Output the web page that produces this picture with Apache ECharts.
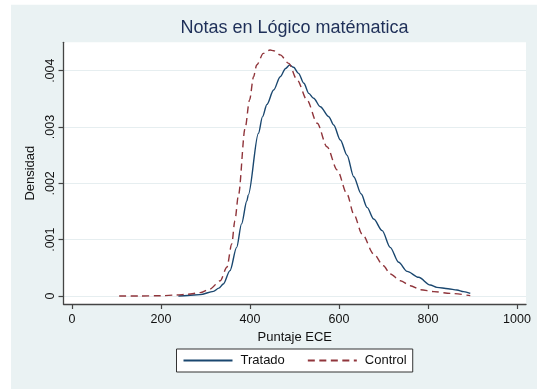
<!DOCTYPE html>
<html>
<head>
<meta charset="utf-8">
<script src="https://cdn.jsdelivr.net/npm/echarts@6/dist/echarts.min.js"></script>
<style>
html,body{margin:0;padding:0;background:#ffffff;}
#c{position:absolute;left:0;top:0;width:537px;height:389px;}
</style>
</head>
<body>
<div id="c"></div>
<script>
// Data
const titleText = 'Notas en Lógico matématica';
const seriesNames = ['Tratado', 'Control'];
const xTicks = [0, 200, 400, 600, 800, 1000];
const yTicks = [0, 0.001, 0.002, 0.003, 0.004];
const yTickLabels = ['0', '.001', '.002', '.003', '.004'];

const tratadoX = [239,260,288,318,330,340,355,370,381,393,396,419,428,438,453,468,480,489,498,509,521,532,543,558,577,588,603,618,633,650,663,678,697,715,734,753,779,805,820,845,865,880,895];
const tratadoY = [0,0.00001,0.000024,0.000083,0.00014,0.000213,0.00045,0.000864,0.00128,0.00169,0.00179,0.00289,0.00318,0.0034,0.003657,0.003893,0.00404,0.0041,0.00406,0.003953,0.003776,0.003598,0.00351,0.00336,0.003183,0.003036,0.00277,0.0025,0.002118,0.00181,0.001574,0.001367,0.00116,0.000864,0.000598,0.000438,0.000332,0.000195,0.000154,0.00013,0.000107,0.000077,0.000047];

const controlX = [106,150,200,235,260,288,310,333,348,359,366,374,389,399,408,415,430,445,453,468,487,506,528,551,573,596,618,633,652,678,700,715,738,760,783,813,850,895];
const controlY = [0,0,0.000005,0.000018,0.00003,0.00006,0.000124,0.00027,0.00051,0.000923,0.001337,0.00179,0.002977,0.00348,0.003893,0.0041,0.004308,0.004367,0.004355,0.00428,0.00413,0.003834,0.00348,0.003066,0.00265,0.002237,0.00181,0.001456,0.0011,0.000746,0.000538,0.00039,0.000272,0.000183,0.000112,0.000077,0.000047,0.000006];

const FONT = '"Liberation Sans", Arial, sans-serif';
const zip = (xs, ys) => xs.map((x, i) => [x, ys[i]]);

const chart = echarts.init(document.getElementById('c'), null, {renderer: 'canvas'});
chart.setOption({
  backgroundColor: '#ffffff',
  animation: false,
  graphic: [{
    type: 'rect', left: 11, top: 4.7, z: -10, silent: true,
    shape: {width: 526, height: 385},
    style: {fill: '#eaf2f3'}
  }, {
    type: 'rect', left: 63.5, top: 42.3, z: -9, silent: true,
    shape: {width: 462.5, height: 261.7},
    style: {fill: '#ffffff'}
  }],
  title: {
    text: titleText,
    left: 294.5, top: 19.5, textAlign: 'center', padding: 0,
    textStyle: {fontFamily: FONT, fontSize: 18, fontWeight: 'normal', color: '#1e2f58'}
  },
  legend: {
    data: seriesNames,
    left: 176.5, top: 349,
    padding: [5, 6, 5, 6],
    itemWidth: 49, itemHeight: 14, itemGap: 22,
    backgroundColor: '#ffffff',
    borderColor: '#333333', borderWidth: 1, borderRadius: 0,
    itemStyle: {opacity: 0},
    textStyle: {fontFamily: FONT, fontSize: 13, color: '#111111', padding: [0, 0, 0, 3]}
  },
  grid: {left: 63.5, right: 11, top: 42.3, bottom: 85, containLabel: false},
  xAxis: {
    type: 'value',
    min: -19.1, max: 1020.2,
    name: 'Puntaje ECE', nameLocation: 'middle', nameGap: 22,
    nameTextStyle: {fontFamily: FONT, fontSize: 13, color: '#111111'},
    axisLine: {show: true, onZero: false, lineStyle: {color: '#444444', width: 1.3}},
    axisTick: {show: true, length: 5, customValues: xTicks, lineStyle: {color: '#444444', width: 1.2}},
    axisLabel: {
      customValues: xTicks, margin: 9, fontFamily: FONT, fontSize: 12.5, color: '#111111',
      formatter: function (v) { return String(Math.round(v)); }
    },
    splitLine: {show: false}
  },
  yAxis: {
    type: 'value',
    min: -0.000142, max: 0.004504,
    name: 'Densidad', nameLocation: 'middle', nameGap: 21, nameRotate: 90,
    nameTextStyle: {fontFamily: FONT, fontSize: 13, color: '#111111'},
    axisLine: {show: true, onZero: false, lineStyle: {color: '#444444', width: 1.3}},
    axisTick: {show: true, length: 5, customValues: yTicks, lineStyle: {color: '#444444', width: 1.2}},
    axisLabel: {
      customValues: yTicks, rotate: 90, margin: 6,
      fontFamily: FONT, fontSize: 12.5, color: '#111111',
      formatter: function (v) {
        const i = yTicks.findIndex(t => Math.abs(t - v) < 1e-9);
        return i >= 0 ? yTickLabels[i] : '';
      }
    },
    splitLine: {show: true, lineStyle: {color: '#e6eef0', width: 1.2}}
  },
  series: [{
    name: seriesNames[0], type: 'line',
    data: zip(tratadoX, tratadoY),
    showSymbol: false, symbol: 'none',
    smooth: 0.3, smoothMonotone: 'x',
    lineStyle: {color: '#1a476f', width: 1.4},
    itemStyle: {color: '#1a476f'}
  }, {
    name: seriesNames[1], type: 'line',
    data: zip(controlX, controlY),
    showSymbol: false, symbol: 'none',
    smooth: 0.3, smoothMonotone: 'x',
    lineStyle: {color: '#90353b', width: 1.4, type: [7, 4.5]},
    itemStyle: {color: '#90353b'}
  }]
});
</script>
</body>
</html>
